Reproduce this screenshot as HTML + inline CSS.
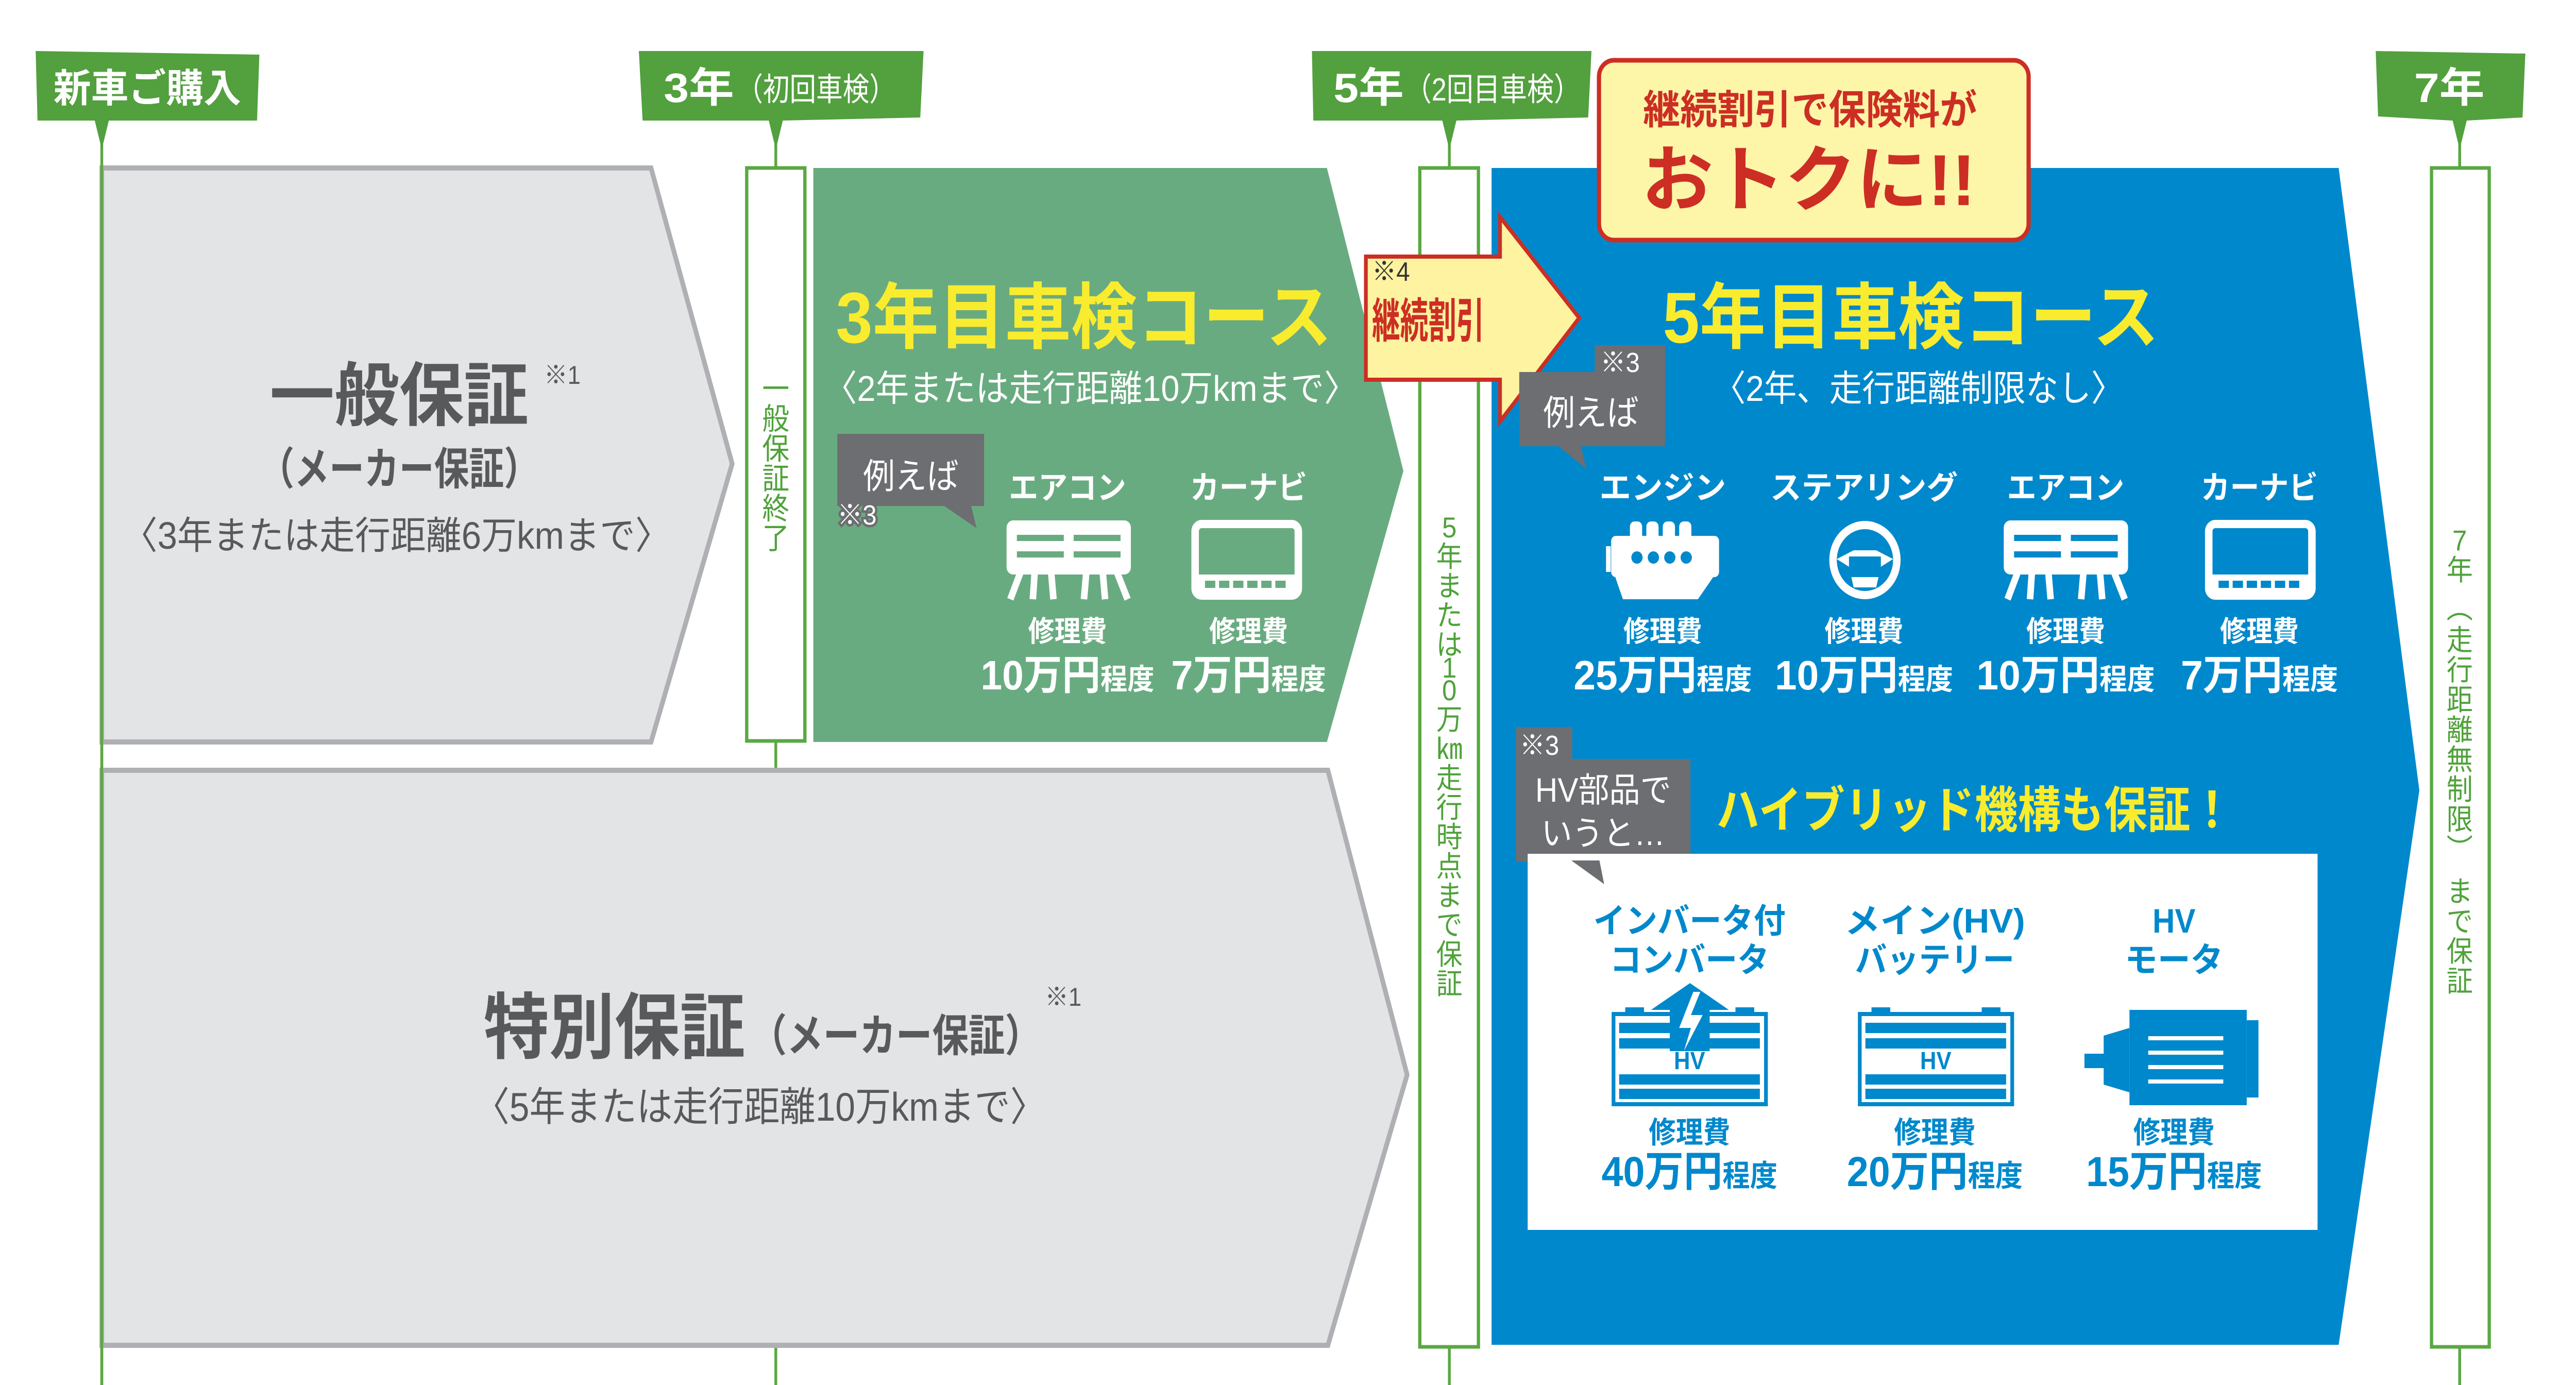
<!DOCTYPE html>
<html><head><meta charset="utf-8"><style>
html,body{margin:0;padding:0;background:#fff;width:100%;height:100%;overflow:hidden}
svg{display:block;position:fixed;left:0;top:0;width:100vw;height:100vh}
</style></head><body>
<svg viewBox="0 0 5492 2688" preserveAspectRatio="none" font-family="Liberation Sans, Noto Sans CJK JP, sans-serif">
<defs>
<g id="ac">
<rect x="0" y="0" width="265" height="105" rx="14" fill="currentColor"/>
<rect x="22" y="28" width="100" height="12" fill="var(--bg)"/><rect x="143" y="28" width="100" height="12" fill="var(--bg)"/>
<rect x="22" y="60" width="100" height="12" fill="var(--bg)"/><rect x="143" y="60" width="100" height="12" fill="var(--bg)"/>
<g stroke="currentColor" stroke-width="14" fill="none">
<line x1="30" y1="100" x2="8" y2="153"/><line x1="60" y1="100" x2="56" y2="153"/><line x1="95" y1="100" x2="100" y2="153"/>
<line x1="170" y1="100" x2="165" y2="153"/><line x1="205" y1="100" x2="210" y2="153"/><line x1="235" y1="100" x2="258" y2="153"/></g>
</g>
<g id="nav">
<rect x="7" y="7" width="220" height="139" rx="14" fill="none" stroke="currentColor" stroke-width="16"/>
<rect x="7" y="105" width="220" height="41" fill="currentColor"/>
<g fill="var(--bg)"><rect x="28" y="117" width="22" height="14"/><rect x="58" y="117" width="22" height="14"/><rect x="88" y="117" width="22" height="14"/><rect x="118" y="117" width="22" height="14"/><rect x="148" y="117" width="22" height="14"/><rect x="178" y="117" width="22" height="14"/></g>
</g>
</defs>

<g stroke="#5aa843" stroke-width="6">
<line x1="217" y1="280" x2="217" y2="2688"/><line x1="1654" y1="280" x2="1654" y2="2688"/>
<line x1="3090" y1="280" x2="3090" y2="2688"/><line x1="5244" y1="280" x2="5244" y2="2688"/>
</g>
<g fill="#52a03e">
<polygon points="76,99 553,106 548,234 232,234 217,290 202,234 80,234"/>
<polygon points="1362,99 1969,99 1962,228 1669,234 1654,290 1639,234 1370,234"/>
<polygon points="2797,99 3393,99 3386,228 3105,234 3090,290 3075,234 2800,234"/>
<polygon points="5065,99 5384,104 5378,228 5259,234 5244,290 5229,234 5070,226"/>
</g>
<g fill="#fff" font-weight="bold">
<text x="314" y="198" font-size="76" text-anchor="middle" textLength="400" lengthAdjust="spacingAndGlyphs">新車ご購入</text>
<text x="1415" y="198" font-size="80" textLength="150" lengthAdjust="spacingAndGlyphs">3年</text>
<text x="1570" y="195" font-size="62" font-weight="normal" textLength="340" lengthAdjust="spacingAndGlyphs">（初回車検）</text>
<text x="2843" y="198" font-size="80" textLength="150" lengthAdjust="spacingAndGlyphs">5年</text>
<text x="2995" y="195" font-size="62" font-weight="normal" textLength="375" lengthAdjust="spacingAndGlyphs">（2回目車検）</text>
<text x="5222" y="198" font-size="80" text-anchor="middle" textLength="150" lengthAdjust="spacingAndGlyphs">7年</text>
</g>
<g fill="#fff" stroke="#5aa843" stroke-width="7">
<rect x="1592" y="326" width="124" height="1112"/>
<rect x="3027" y="326" width="125" height="2288"/>
<rect x="5184" y="326" width="123" height="2288"/>
</g>
<polygon points="217,326 1388,326 1561,900 1388,1440 217,1440" fill="#e3e4e6" stroke="#afb0b3" stroke-width="10"/>
<polygon points="217,1495 2831,1495 3000,2086 2831,2611 217,2611" fill="#e3e4e6" stroke="#afb0b3" stroke-width="10"/>
<line x1="217" y1="320" x2="217" y2="2688" stroke="#5aa843" stroke-width="6"/>
<g fill="#58595b" font-weight="bold">
<text x="851" y="815" font-size="135" text-anchor="middle" textLength="552" lengthAdjust="spacingAndGlyphs">一般保証</text>
<text x="1160" y="745" font-size="50" font-weight="normal">※1</text>
<text x="851" y="940" font-size="86" text-anchor="middle" textLength="596" lengthAdjust="spacingAndGlyphs">（メーカー保証）</text>
<text x="845" y="1065" font-size="74" font-weight="normal" text-anchor="middle" textLength="1170" lengthAdjust="spacingAndGlyphs">〈3年または走行距離6万kmまで〉</text>
<text x="1031" y="2043" font-size="140" textLength="558" lengthAdjust="spacingAndGlyphs">特別保証</text>
<text x="1600" y="2040" font-size="86" textLength="620" lengthAdjust="spacingAndGlyphs">（メーカー保証）</text>
<text x="2228" y="1952" font-size="50" font-weight="normal">※1</text>
<text x="1620" y="2175" font-size="78" font-weight="normal" text-anchor="middle" textLength="1220" lengthAdjust="spacingAndGlyphs">〈5年または走行距離10万kmまで〉</text>
</g>
<polygon points="1734,326 2829,326 2992,914 2829,1440 1734,1440" fill="#69ab80"/>
<text x="1782" y="665" font-size="140" font-weight="bold" fill="#f9ec2e" textLength="1058" lengthAdjust="spacingAndGlyphs">3年目車検コース</text>
<text x="1756" y="778" font-size="70" fill="#fff" textLength="1138" lengthAdjust="spacingAndGlyphs">〈2年または走行距離10万kmまで〉</text>
<rect x="1785" y="842" width="313" height="140" fill="#6d6e71"/>
<polygon points="2010,980 2070,980 2082,1025" fill="#6d6e71"/>
<text x="1840" y="948" font-size="68" fill="#fff">例えば</text>
<text x="1785" y="1018" font-size="54" fill="#fff" stroke="#6d6e71" stroke-width="10" paint-order="stroke">※3</text>
<g fill="#fff" font-weight="bold" text-anchor="middle">
<text x="2276" y="968" font-size="62" textLength="250" lengthAdjust="spacingAndGlyphs">エアコン</text>
<text x="2662" y="968" font-size="62" textLength="250" lengthAdjust="spacingAndGlyphs">カーナビ</text>
<text x="2276" y="1245" font-size="56">修理費</text>
<text x="2662" y="1245" font-size="56">修理費</text>
<text x="2276" y="1338" font-size="80" textLength="370" lengthAdjust="spacingAndGlyphs">10万円<tspan font-size="56">程度</tspan></text>
<text x="2662" y="1338" font-size="80" textLength="330" lengthAdjust="spacingAndGlyphs">7万円<tspan font-size="56">程度</tspan></text>
</g>
<g style="--bg:#69ab80" color="#fff">
<use href="#ac" x="2146" y="1010"/>
<use href="#nav" x="2541" y="1010"/>
</g>
<polygon points="3180,326 4986,326 5158,1534 4986,2610 3180,2610" fill="#0088cc"/>
<rect x="3409" y="117" width="916" height="349" rx="32" fill="#fdf5a8" stroke="#cc2e24" stroke-width="9"/>
<g fill="#cc2e24" font-weight="bold">
<text x="3503" y="240" font-size="78" textLength="712" lengthAdjust="spacingAndGlyphs">継続割引で保険料が</text>
<text x="3500" y="398" font-size="140" textLength="712" lengthAdjust="spacingAndGlyphs">おトクに!!</text>
</g>
<polygon points="2912,498 3198,498 3198,421 3367,617 3198,818 3198,737 2912,737" fill="#fdf3a0" stroke="#cc2e24" stroke-width="8"/>
<text x="2925" y="545" font-size="52" fill="#333">※4</text>
<text x="2925" y="655" font-size="92" font-weight="bold" fill="#cc2e24" textLength="240" lengthAdjust="spacingAndGlyphs">継続割引</text>
<text x="3545" y="665" font-size="140" font-weight="bold" fill="#f9ec2e" textLength="1058" lengthAdjust="spacingAndGlyphs">5年目車検コース</text>
<text x="3652" y="778" font-size="70" fill="#fff" textLength="876" lengthAdjust="spacingAndGlyphs">〈2年、走行距離制限なし〉</text>
<rect x="3239" y="722" width="311" height="144" fill="#6d6e71"/>
<rect x="3400" y="670" width="150" height="60" fill="#6d6e71"/>
<polygon points="3320,864 3370,864 3382,910" fill="#6d6e71"/>
<text x="3412" y="722" font-size="54" fill="#fff">※3</text>
<text x="3290" y="825" font-size="68" fill="#fff">例えば</text>
<g fill="#fff" font-weight="bold" text-anchor="middle">
<text x="3545" y="968" font-size="62" textLength="270" lengthAdjust="spacingAndGlyphs">エンジン</text>
<text x="3974" y="968" font-size="62" textLength="400" lengthAdjust="spacingAndGlyphs">ステアリング</text>
<text x="4404" y="968" font-size="62" textLength="250" lengthAdjust="spacingAndGlyphs">エアコン</text>
<text x="4817" y="968" font-size="62" textLength="250" lengthAdjust="spacingAndGlyphs">カーナビ</text>
<text x="3545" y="1245" font-size="56">修理費</text><text x="3974" y="1245" font-size="56">修理費</text>
<text x="4404" y="1245" font-size="56">修理費</text><text x="4817" y="1245" font-size="56">修理費</text>
<text x="3545" y="1338" font-size="80" textLength="380" lengthAdjust="spacingAndGlyphs">25万円<tspan font-size="56">程度</tspan></text>
<text x="3974" y="1338" font-size="80" textLength="380" lengthAdjust="spacingAndGlyphs">10万円<tspan font-size="56">程度</tspan></text>
<text x="4404" y="1338" font-size="80" textLength="380" lengthAdjust="spacingAndGlyphs">10万円<tspan font-size="56">程度</tspan></text>
<text x="4817" y="1338" font-size="80" textLength="335" lengthAdjust="spacingAndGlyphs">7万円<tspan font-size="56">程度</tspan></text>
</g>
<g fill="#fff">
<rect x="3435" y="1040" width="230" height="80" rx="10"/>
<polygon points="3440,1110 3660,1110 3620,1163 3460,1163"/>
<rect x="3475" y="1012" width="26" height="40" rx="10"/><rect x="3510" y="1012" width="26" height="40" rx="10"/><rect x="3545" y="1012" width="26" height="40" rx="10"/><rect x="3580" y="1012" width="26" height="40" rx="10"/>
<rect x="3424" y="1060" width="10" height="50"/>
</g>
<g fill="#0088cc"><circle cx="3490" cy="1082" r="12"/><circle cx="3525" cy="1082" r="12"/><circle cx="3560" cy="1082" r="12"/><circle cx="3595" cy="1082" r="12"/></g>
<circle cx="3976" cy="1087" r="68" fill="none" stroke="#fff" stroke-width="16"/>
<path d="M3916,1085 L3952,1068 L4000,1068 L4036,1085 L4010,1100 L4000,1140 L3952,1140 L3942,1100 Z" fill="#fff"/>
<rect x="3942" y="1080" width="68" height="40" fill="#0088cc"/>
<g style="--bg:#0088cc" color="#fff">
<use href="#ac" x="4272" y="1010"/>
<use href="#nav" x="4702" y="1010"/>
</g>
<rect x="3232" y="1473" width="372" height="199" fill="#6d6e71"/>
<rect x="3232" y="1411" width="120" height="70" fill="#6d6e71"/>
<text x="3240" y="1465" font-size="54" fill="#fff">※3</text>
<text x="3418" y="1556" font-size="66" fill="#fff" text-anchor="middle">HV部品で</text>
<text x="3418" y="1640" font-size="66" fill="#fff" text-anchor="middle">いうと…</text>
<text x="3659" y="1606" font-size="96" font-weight="bold" fill="#f9ec2e" textLength="1103" lengthAdjust="spacingAndGlyphs">ハイブリッド機構も保証！</text>
<rect x="3257" y="1657" width="1684" height="730" fill="#fff"/>
<polygon points="3350,1670 3410,1670 3420,1716" fill="#6d6e71"/>
<g fill="#0088cc" font-weight="bold" text-anchor="middle">
<text x="3602" y="1810" font-size="66" textLength="410" lengthAdjust="spacingAndGlyphs">インバータ付</text>
<text x="3602" y="1886" font-size="66" textLength="340" lengthAdjust="spacingAndGlyphs">コンバータ</text>
<text x="4125" y="1810" font-size="66" textLength="385" lengthAdjust="spacingAndGlyphs">メイン(HV)</text>
<text x="4125" y="1886" font-size="66" textLength="340" lengthAdjust="spacingAndGlyphs">バッテリー</text>
<text x="4635" y="1810" font-size="66">HV</text>
<text x="4635" y="1886" font-size="66" textLength="210" lengthAdjust="spacingAndGlyphs">モータ</text>
<text x="3602" y="2218" font-size="58">修理費</text><text x="4125" y="2218" font-size="58">修理費</text><text x="4635" y="2218" font-size="58">修理費</text>
<text x="3602" y="2302" font-size="82" textLength="375" lengthAdjust="spacingAndGlyphs">40万円<tspan font-size="58">程度</tspan></text>
<text x="4125" y="2302" font-size="82" textLength="375" lengthAdjust="spacingAndGlyphs">20万円<tspan font-size="58">程度</tspan></text>
<text x="4635" y="2302" font-size="82" textLength="375" lengthAdjust="spacingAndGlyphs">15万円<tspan font-size="58">程度</tspan></text>
</g>
<g fill="none" stroke="#0088cc" stroke-width="8">
<rect x="3440" y="1968" width="325" height="175"/>
<rect x="3965" y="1968" width="325" height="175"/>
</g>
<g fill="#0088cc">
<rect x="3465" y="1955" width="40" height="15"/><rect x="3700" y="1955" width="40" height="15"/>
<rect x="3990" y="1955" width="40" height="15"/><rect x="4225" y="1955" width="40" height="15"/>
<rect x="3452" y="1985" width="300" height="20"/><rect x="3452" y="2015" width="300" height="20"/>
<rect x="3452" y="2085" width="300" height="20"/><rect x="3452" y="2113" width="300" height="20"/>
<rect x="3977" y="1985" width="300" height="20"/><rect x="3977" y="2015" width="300" height="20"/>
<rect x="3977" y="2085" width="300" height="20"/><rect x="3977" y="2113" width="300" height="20"/>
<polygon points="3520,1960 3603,1908 3686,1960 3645,1960 3645,2040 3560,2040 3560,1960"/>
<rect x="4540" y="1960" width="250" height="185"/>
<rect x="4790" y="1980" width="25" height="150"/>
<polygon points="4485,2010 4540,1995 4540,2120 4485,2105"/>
<rect x="4444" y="2045" width="45" height="28"/>
</g>
<polygon points="3610,1925 3580,1995 3605,1995 3590,2040 3630,1970 3605,1970 3625,1925" fill="#fff"/>
<g font-weight="bold" font-size="48" fill="#0088cc" text-anchor="middle">
<text x="3602" y="2075">HV</text><text x="4127" y="2075">HV</text>
</g>
<g stroke="#fff" stroke-width="8">
<line x1="4580" y1="2015" x2="4740" y2="2015"/><line x1="4580" y1="2043" x2="4740" y2="2043"/>
<line x1="4580" y1="2071" x2="4740" y2="2071"/><line x1="4580" y1="2099" x2="4740" y2="2099"/>
</g>
<g fill="#4fa23a" font-size="58" text-anchor="middle">
<text x="1654"><tspan x="1654" y="775">一</tspan><tspan x="1654" y="833">般</tspan><tspan x="1654" y="891">保</tspan><tspan x="1654" y="949">証</tspan><tspan x="1654" y="1007">終</tspan><tspan x="1654" y="1065">了</tspan></text>
<text x="3090" font-size="56"><tspan x="3090" y="1043">5</tspan><tspan x="3090" y="1100">年</tspan><tspan x="3090" y="1157">ま</tspan><tspan x="3090" y="1214">た</tspan><tspan x="3090" y="1271">は</tspan><tspan x="3090" y="1315">1</tspan><tspan x="3090" y="1359">0</tspan><tspan x="3090" y="1416">万</tspan><tspan x="3090" y="1473">㎞</tspan><tspan x="3090" y="1530">走</tspan><tspan x="3090" y="1587">行</tspan><tspan x="3090" y="1644">時</tspan><tspan x="3090" y="1701">点</tspan><tspan x="3090" y="1758">ま</tspan><tspan x="3090" y="1815">で</tspan><tspan x="3090" y="1872">保</tspan><tspan x="3090" y="1929">証</tspan></text>
<text x="5244" font-size="56"><tspan x="5244" y="1068">7</tspan><tspan x="5244" y="1126">年</tspan><tspan x="5244" y="1200">︵</tspan><tspan x="5244" y="1262">走</tspan><tspan x="5244" y="1320">行</tspan><tspan x="5244" y="1378">距</tspan><tspan x="5244" y="1436">離</tspan><tspan x="5244" y="1494">無</tspan><tspan x="5244" y="1552">制</tspan><tspan x="5244" y="1610">限</tspan><tspan x="5244" y="1668">︶</tspan><tspan x="5244" y="1750">ま</tspan><tspan x="5244" y="1808">で</tspan><tspan x="5244" y="1866">保</tspan><tspan x="5244" y="1924">証</tspan></text>
</g>
</svg>
</body></html>
